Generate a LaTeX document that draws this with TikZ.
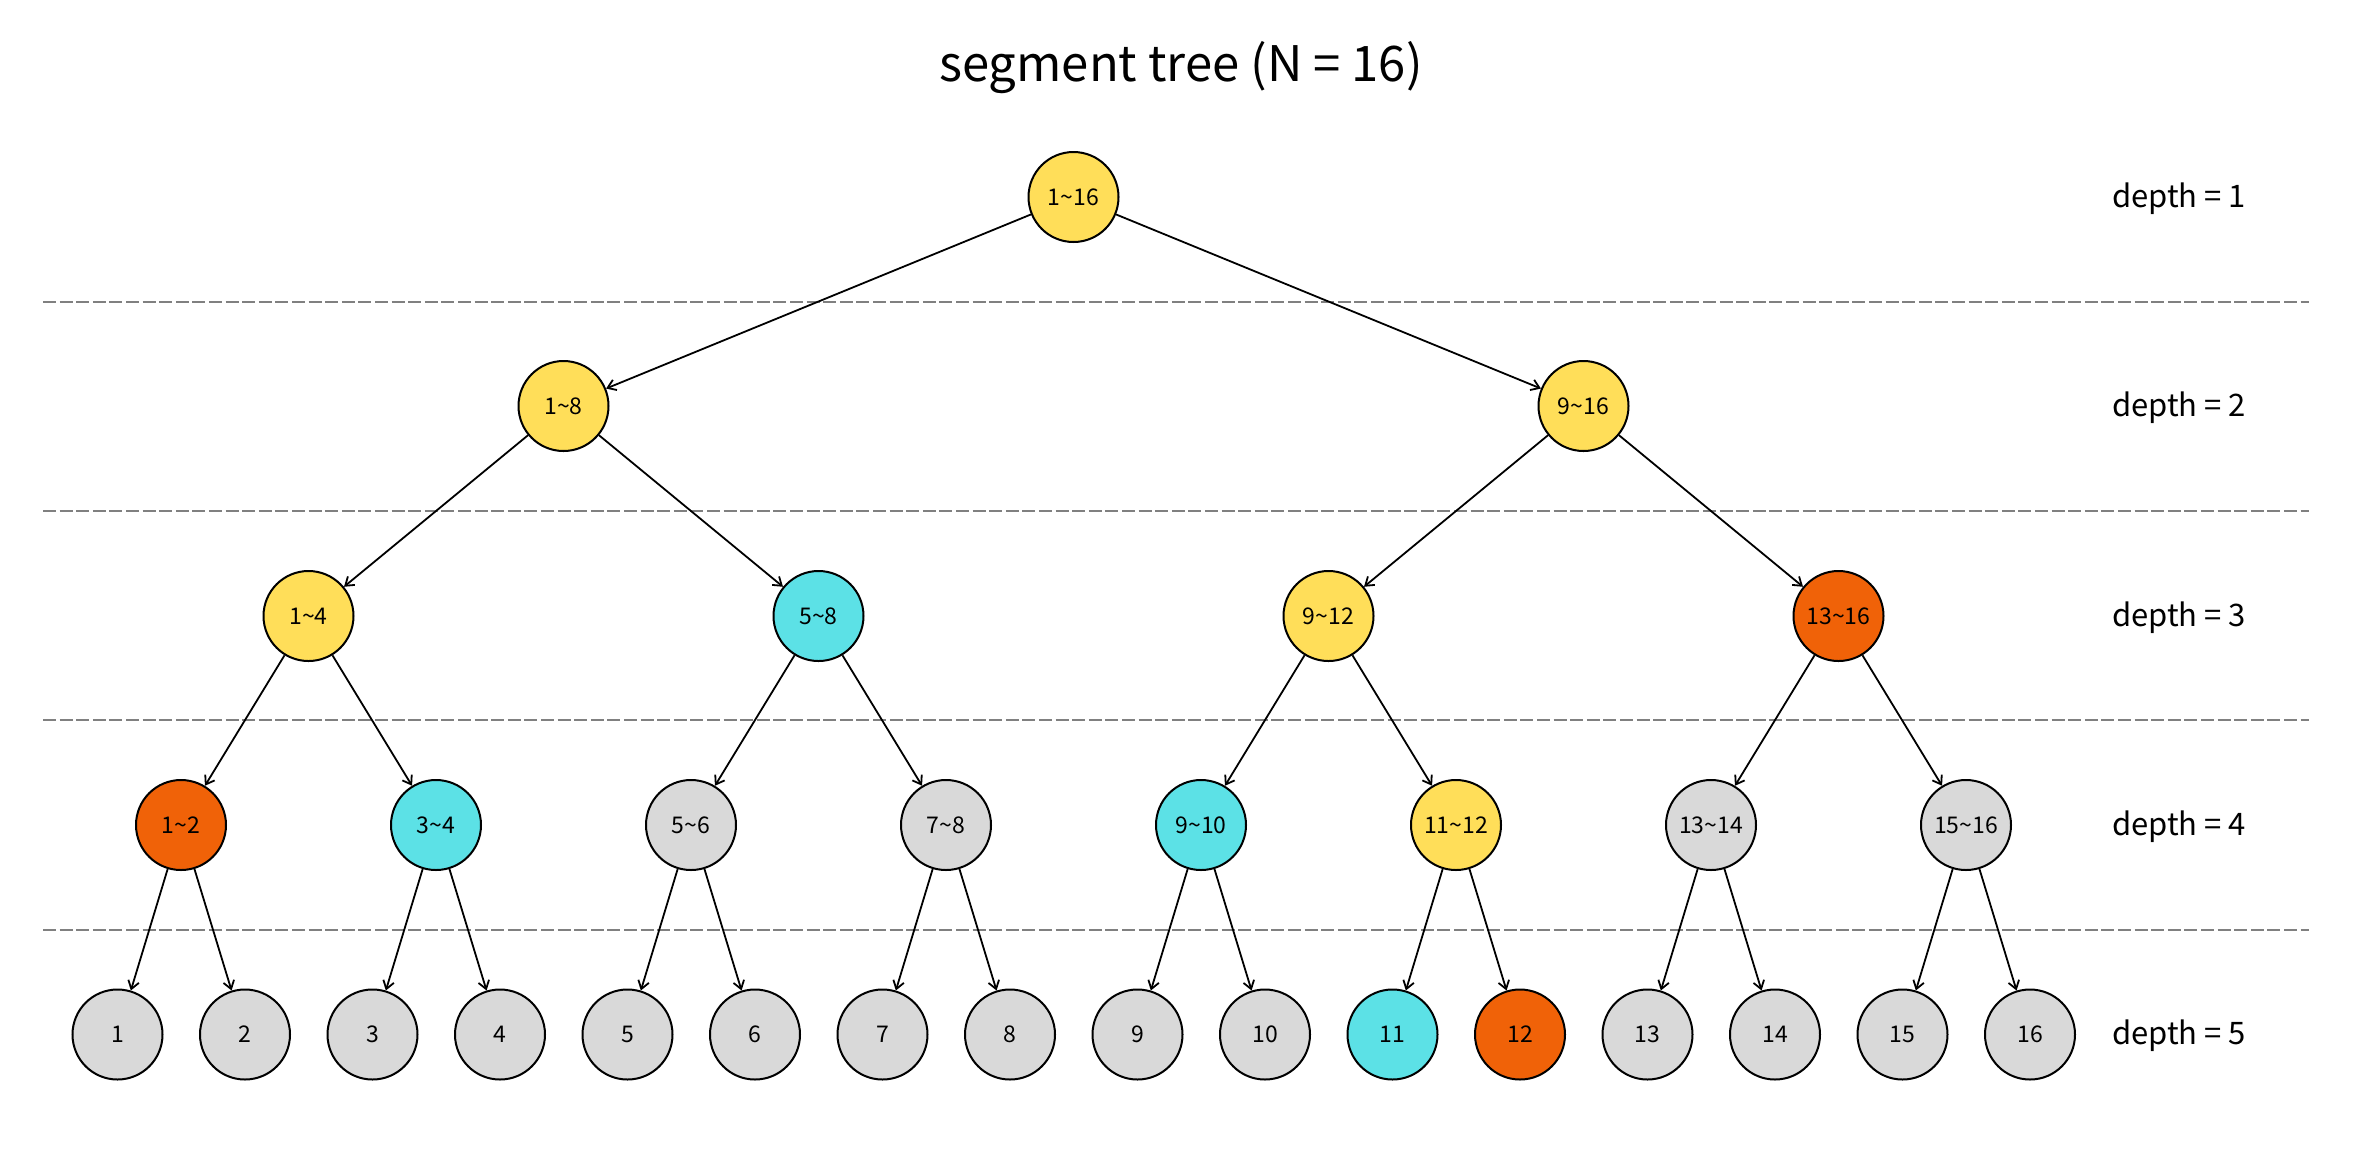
\documentclass[tikz,border=0pt]{standalone}
\usepackage{fontspec}
\setmainfont{Noto Sans CJK KR}
\usetikzlibrary{arrows.meta}
\definecolor{cyel}{HTML}{FFDE59}
\definecolor{ccyan}{HTML}{5CE1E6}
\definecolor{corg}{HTML}{F06208}
\definecolor{cgray}{HTML}{D9D9D9}
\definecolor{cdash}{HTML}{808080}
\tikzset{
  tn/.style={circle, draw=black, line width=1pt, minimum size=45pt, inner sep=0pt, font=\fontsize{11.5}{12}\selectfont},
  ye/.style={tn, fill=cyel},
  cy/.style={tn, fill=ccyan},
  og/.style={tn, fill=corg},
  gy/.style={tn, fill=cgray},
  edge/.style={draw=black, line width=0.9pt, -{Straight Barb[length=4pt,width=5.5pt]}},
  sep/.style={draw=cdash, line width=0.9pt, dash pattern=on 6.5pt off 1.8pt},
  dlab/.style={font=\fontsize{15.5}{16}\selectfont},
}
\begin{document}
\begin{tikzpicture}[x=0.5pt,y=-0.5pt]
\useasboundingbox (0,0) rectangle (2362,1148);
\node[font=\fontsize{24.5}{26}\selectfont] (title) at (1181,68) {segment tree (N = 16)};
% separators
\foreach \yy [count=\k] in {302,511,720,930}
  \draw[sep] (43,\yy) coordinate (s\k a) -- (2309,\yy) coordinate (s\k b);
% depth labels
\node[dlab] (d1) at (2179,199) {depth = 1};
\node[dlab] (d2) at (2179,408) {depth = 2};
\node[dlab] (d3) at (2179,618) {depth = 3};
\node[dlab] (d4) at (2179,827) {depth = 4};
\node[dlab] (d5) at (2179,1036) {depth = 5};
% depth 1
\node[ye] (r) at (1073.5,197) {1\textasciitilde16};
% depth 2
\node[ye] (a1) at (563.5,406) {1\textasciitilde8};
\node[ye] (a2) at (1583.5,406) {9\textasciitilde16};
% depth 3
\node[ye] (b1) at (308.5,616) {1\textasciitilde4};
\node[cy] (b2) at (818.5,616) {5\textasciitilde8};
\node[ye] (b3) at (1328.5,616) {9\textasciitilde12};
\node[og] (b4) at (1838.5,616) {13\textasciitilde16};
% depth 4
\node[og] (c1) at (181,825) {1\textasciitilde2};
\node[cy] (c2) at (436,825) {3\textasciitilde4};
\node[gy] (c3) at (691,825) {5\textasciitilde6};
\node[gy] (c4) at (946,825) {7\textasciitilde8};
\node[cy] (c5) at (1201,825) {9\textasciitilde10};
\node[ye] (c6) at (1456,825) {11\textasciitilde12};
\node[gy] (c7) at (1711,825) {13\textasciitilde14};
\node[gy] (c8) at (1966,825) {15\textasciitilde16};
% depth 5
\node[gy] (l1) at (117.5,1034.5) {1};
\node[gy] (l2) at (245,1034.5) {2};
\node[gy] (l3) at (372.5,1034.5) {3};
\node[gy] (l4) at (500,1034.5) {4};
\node[gy] (l5) at (627.5,1034.5) {5};
\node[gy] (l6) at (755,1034.5) {6};
\node[gy] (l7) at (882.5,1034.5) {7};
\node[gy] (l8) at (1010,1034.5) {8};
\node[gy] (l9) at (1137.5,1034.5) {9};
\node[gy] (l10) at (1265,1034.5) {10};
\node[cy] (l11) at (1392.5,1034.5) {11};
\node[og] (l12) at (1520,1034.5) {12};
\node[gy] (l13) at (1647.5,1034.5) {13};
\node[gy] (l14) at (1775,1034.5) {14};
\node[gy] (l15) at (1902.5,1034.5) {15};
\node[gy] (l16) at (2030,1034.5) {16};
% edges
\draw[edge] (r) -- (a1);
\draw[edge] (r) -- (a2);
\draw[edge] (a1) -- (b1);
\draw[edge] (a1) -- (b2);
\draw[edge] (a2) -- (b3);
\draw[edge] (a2) -- (b4);
\draw[edge] (b1) -- (c1);
\draw[edge] (b1) -- (c2);
\draw[edge] (b2) -- (c3);
\draw[edge] (b2) -- (c4);
\draw[edge] (b3) -- (c5);
\draw[edge] (b3) -- (c6);
\draw[edge] (b4) -- (c7);
\draw[edge] (b4) -- (c8);
\foreach \p [evaluate=\p as \q using int(2*\p-1), evaluate=\p as \w using int(2*\p)] in {1,...,8} {
  \draw[edge] (c\p) -- (l\q);
  \draw[edge] (c\p) -- (l\w);
}
\end{tikzpicture}
\end{document}
